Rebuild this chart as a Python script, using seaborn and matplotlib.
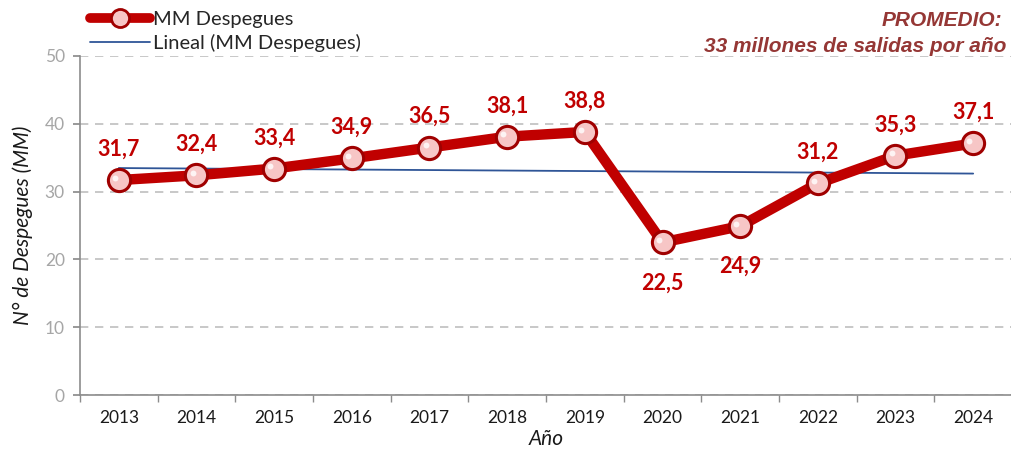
import numpy as np
import pandas as pd
import matplotlib
matplotlib.use("Agg")
import matplotlib.pyplot as plt
import seaborn as sns
from matplotlib.lines import Line2D

years = ["2013", "2014", "2015", "2016", "2017", "2018", "2019", "2020", "2021", "2022", "2023", "2024"]
despegues = [31.7, 32.4, 33.4, 34.9, 36.5, 38.1, 38.8, 22.5, 24.9, 31.2, 35.3, 37.1]
labels = ["31,7", "32,4", "33,4", "34,9", "36,5", "38,1", "38,8", "22,5", "24,9", "31,2", "35,3", "37,1"]
below = [False, False, False, False, False, False, False, True, True, False, False, False]
y_ticks = [0, 10, 20, 30, 40, 50]

sns.set_theme(style="white")
plt.rcParams["font.family"] = ["Lato", "DejaVu Sans"]

df = pd.DataFrame({"idx": np.arange(len(years)), "year": years, "val": despegues})

fig = plt.figure(figsize=(10.12, 4.5), dpi=100)
ax = fig.add_axes([80 / 1012, 1 - 395 / 450, (1012 - 80) / 1012, (395 - 56) / 450])

# trend line
coef = np.polyfit(df["idx"], df["val"], 1)
trend = np.polyval(coef, df["idx"])
sns.lineplot(x=df["idx"], y=trend, ax=ax, color="#2F5597", linewidth=1.3, zorder=3)

# main series
sns.lineplot(data=df, x="idx", y="val", ax=ax, color="#C00000", linewidth=7.5,
             marker="o", markersize=16, markerfacecolor="#F7C6C6",
             markeredgecolor="#A00000", markeredgewidth=2.2, zorder=4)
ax.scatter(df["idx"] - 0.05, df["val"] + 0.35, s=18, color="white", alpha=0.8, zorder=6, linewidths=0)

for i, (v, lab, b) in enumerate(zip(despegues, labels, below)):
    if b:
        ax.text(i, v - 4.4, lab, ha="center", va="top", fontsize=15.5, fontweight="bold", color="#C00000", zorder=7)
    else:
        ax.text(i, v + 3.0, lab, ha="center", va="bottom", fontsize=15.5, fontweight="bold", color="#C00000", zorder=7)

ax.set_xlim(-0.5, 11.5)
ax.set_ylim(0, 50)
ax.set_yticks(y_ticks)
ax.set_yticklabels([str(t) for t in y_ticks], color="#A6A6A6", fontsize=12.5)
ax.set_xticks(np.arange(len(years)))
ax.set_xticklabels(years, fontsize=12.5, color="#1a1a1a")
ax.set_xticks(np.arange(-0.5, 12, 1), minor=True)
ax.tick_params(axis="x", which="major", length=0, pad=11)
ax.tick_params(axis="x", which="minor", length=5, color="#8C8C8C", direction="out", bottom=True)
ax.tick_params(axis="y", length=5, color="#8C8C8C", direction="out", left=True, pad=6)

ax.grid(axis="y", linestyle=(0, (5, 4)), color="#BFBFBF", linewidth=1.2)
ax.set_axisbelow(True)
for s in ["top", "right"]:
    ax.spines[s].set_visible(False)
ax.spines["left"].set_color("#8C8C8C")
ax.spines["bottom"].set_color("#8C8C8C")
ax.spines["left"].set_linewidth(1.2)
ax.spines["bottom"].set_linewidth(1.2)

ax.set_ylabel("N° de Despegues (MM)", fontsize=15, style="italic", color="#1a1a1a", labelpad=8)
ax.set_xlabel("Año", fontsize=15, style="italic", color="#1a1a1a", labelpad=2)

handles = [
    Line2D([0], [0], color="#C00000", linewidth=7, marker="o", markersize=13,
           markerfacecolor="#F7C6C6", markeredgecolor="#A00000", markeredgewidth=2),
    Line2D([0], [0], color="#2F5597", linewidth=1.3),
]
leg = fig.legend(handles, ["MM Despegues", "Lineal (MM Despegues)"], loc="upper left",
                 bbox_to_anchor=(90 / 1012, 1 - 11 / 450), frameon=False, fontsize=14.5,
                 handlelength=3.0, handletextpad=0.15, labelspacing=0.3, borderaxespad=0,
                 borderpad=0)

fig.text(1002 / 1012, 1 - 20 / 450, "PROMEDIO:", ha="right", va="center", fontsize=15,
         fontweight="bold", style="italic", color="#953735", family="Liberation Sans")
fig.text(1006 / 1012, 1 - 46 / 450, "33 millones de salidas por año", ha="right", va="center",
         fontsize=15, fontweight="bold", style="italic", color="#953735", family="Liberation Sans")

fig.savefig("out.png", dpi=100)
